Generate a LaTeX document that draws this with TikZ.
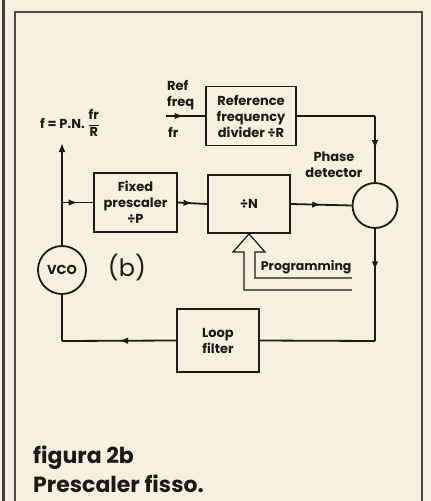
\documentclass[tikz,border=0pt]{standalone}
\usepackage{amsmath}
\usepackage{fontspec}
\setmainfont{Poppins}
\usepackage{tikz}
\newcommand*{\loopX}{62}
\newcommand*{\phaseX}{375}
\newcommand*{\bottomY}{341}
\usetikzlibrary{positioning}
\usetikzlibrary{calc}
\usetikzlibrary{arrows.meta}
\usetikzlibrary{decorations.markings}
\definecolor{paper}{RGB}{246,240,222}
\definecolor{ink}{RGB}{28,26,24}
\tikzset{PLLstyle/.style={
    x=1pt,y=-1pt,
    line width=1.8pt,
    draw=ink,
    every node/.style={text=ink,font=\fontsize{13}{16}\selectfont\bfseries},
    block/.style={draw=ink,line width=1.8pt,rectangle,align=center,inner sep=1pt},
    ring/.style={draw=ink,line width=1.8pt,circle,inner sep=0pt},
    midarrow/.style={postaction={decorate},
      decoration={markings,mark=at position ##1 with {\arrow{Latex[length=9pt,width=6.5pt]}}}},
    midarrow/.default=0.5
  }
}

\begin{document}
\begin{tikzpicture}[PLLstyle]
    \fill [paper] (0,0) rectangle (431,501);
    \useasboundingbox (0,0) rectangle (431,501);
    \draw [line width=3pt,black!75] (3,0) -- (3,501);
    \draw [line width=1.4pt,black!70] (15,520) -- (15,12) -- (422,12) -- (422,520);

    \node [block,minimum width=90pt,minimum height=59pt] (refdiv) at (251,116) {Reference\\frequency\\divider ÷R};
    \node [block,minimum width=83pt,minimum height=59pt] (presc) at (135.5,202.5) {Fixed\\prescaler\\÷P};
    \node [block,minimum width=82pt,minimum height=58pt] (divn) at (249,204) {÷N};
    \node [ring,minimum size=45pt] (phase) at (\phaseX,205.5) {};
    \node [block,minimum width=82pt,minimum height=63pt] (loop) at (218,340.5) {Loop\\filter};
    \node [ring,minimum size=48pt] (vco) at (\loopX,270) {VCO};

    \node [align=center] (phlabel) at (334,165) {Phase\\detector};
    \node [align=left,anchor=west] (reflabel) at (163,95) {Ref\\freq};
    \node [anchor=west] (frlabel) at (164,132) {fr};
    \node [anchor=west] (flabel) at (36,123) {f = P.N. $\dfrac{\text{fr}}{\text{R}}$};
    \node [font=\fontsize{24}{28}\selectfont] (blabel) at (127,268) {(b)};
    \node [anchor=west,font=\fontsize{12.5}{15}\selectfont\bfseries,inner sep=1pt] (proglabel) at (259,267) {Programming};

    \coordinate (refin) at (166,116);
    \coordinate (fout) at (\loopX,143);
    \coordinate (tap) at (\loopX,202.5);
    \coordinate (rcorner) at (\phaseX,116);
    \coordinate (lcorner) at (\phaseX,\bottomY);
    \coordinate (vcorner) at (\loopX,\bottomY);

    % forward path
    \draw [midarrow=0.45] (refin) -- (refdiv.west);
    \draw (refdiv.east) -- (rcorner);
    \draw [midarrow] (rcorner) -- (phase.north);
    \draw [midarrow] (tap) -- (presc.west);
    \draw [midarrow] (presc.east) -- (divn.west);
    \draw [midarrow] (divn.east) -- (phase.west);
    \draw [midarrow=0.37] (phase.south) -- (lcorner);
    \draw (lcorner) -- (loop.east);
    \draw [midarrow] (loop.west) -- (vcorner);
    \draw (vcorner) -- (vco.south);
    \draw (vco.north) -- (tap);
    \draw [-{Latex[length=9pt,width=7pt]}] (tap) -- (fout);

    % programming input
    \draw [line width=1.2pt] (352,290) -- (244,290) -- (244,252) -- (233,252) -- (divn.south)
        -- (265,252) -- (255,252) -- (255,278) -- (352,278);

    \node [anchor=west,font=\fontsize{22}{25}\selectfont\bfseries] (caption) at (29,458) {figura 2b};
    \node [anchor=west,font=\fontsize{22}{25}\selectfont\bfseries] (subcaption) at (29,484) {Prescaler fisso.};
\end{tikzpicture}
\end{document}
